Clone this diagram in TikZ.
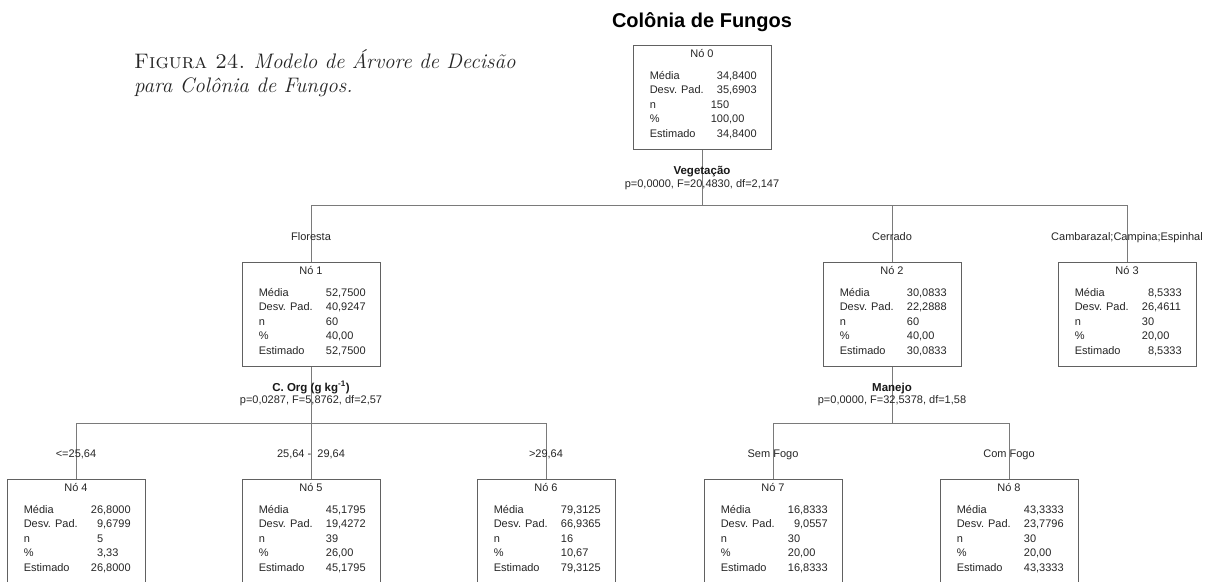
\documentclass[tikz,border=0pt]{standalone}
\usepackage{fontspec}
\setsansfont{Liberation Sans}
\usepackage{tikz}
\usetikzlibrary{calc}

% valores alinhados pela virgula
\newcommand{\dv}[2]{\makebox[18.4pt][r]{#1},#2}
\newcommand{\dn}[1]{\makebox[18.4pt][r]{#1}}

\tikzset{
	caixa/.style={draw=black!62, line width=0.9pt, minimum width=138pt, minimum height=104pt, inner sep=0pt},
	ramo/.style={draw=black!52, line width=0.9pt},
	txt/.style={font=\sffamily\fontsize{11}{13}\selectfont, inner sep=0pt, text=black!85},
	txtb/.style={font=\sffamily\bfseries\fontsize{11.5}{13}\selectfont, inner sep=0pt, text=black!90}
}

% nome, x, topo, numero, media, desvio, n, percentual
\newcommand{\arvno}[8]{%
	\node[caixa, anchor=north] (#1) at (#2,#3) {};
	\node[txt, anchor=base] (#1-t) at ($(#1.north)+(0,12)$) {Nó #4};
	\node[txt, anchor=base west] (#1-l1) at ($(#1.north west)+(17,34)$) {Média};
	\node[txt, anchor=base west] (#1-l2) at ($(#1.north west)+(17,48.5)$) {Desv. Pad.};
	\node[txt, anchor=base west] (#1-l3) at ($(#1.north west)+(17,63)$) {n};
	\node[txt, anchor=base west] (#1-l4) at ($(#1.north west)+(17,77.5)$) {\%};
	\node[txt, anchor=base west] (#1-l5) at ($(#1.north west)+(17,92)$) {Estimado};
	\node[txt, anchor=base west] (#1-v1) at ($(#1.north west)+(78,34)$) {#5};
	\node[txt, anchor=base west] (#1-v2) at ($(#1.north west)+(78,48.5)$) {#6};
	\node[txt, anchor=base west] (#1-v3) at ($(#1.north west)+(78,63)$) {#7};
	\node[txt, anchor=base west] (#1-v4) at ($(#1.north west)+(78,77.5)$) {#8};
	\node[txt, anchor=base west] (#1-v5) at ($(#1.north west)+(78,92)$) {#5};
}

\begin{document}
\begin{tikzpicture}[x=1pt, y=-1pt]
	\useasboundingbox (0,0) rectangle (1226,581);
	\clip (0,0) rectangle (1226,581);
	\fill[white] (0,0) rectangle (1226,581);

	% legenda e titulo
	\node[anchor=base west, inner sep=0pt, font=\fontsize{21}{24}\selectfont, text=black!85] (leg1) at (134,68) {\textsc{Figura 24.} \textit{Modelo de Árvore de Decisão}};
	\node[anchor=base west, inner sep=0pt, font=\fontsize{21}{24}\selectfont, text=black!85] (leg2) at (134,92) {\textit{para Colônia de Fungos.}};
	\node[anchor=base, inner sep=0pt, font=\sffamily\bfseries\fontsize{20}{24}\selectfont] (titulo) at (702,27) {Colônia de Fungos};

	% nos
	\arvno{n0}{702}{45}{0}{\dv{34}{8400}}{\dv{35}{6903}}{\dn{150}}{\dv{100}{00}}
	\arvno{n1}{311}{262}{1}{\dv{52}{7500}}{\dv{40}{9247}}{\dn{60}}{\dv{40}{00}}
	\arvno{n2}{892}{262}{2}{\dv{30}{0833}}{\dv{22}{2888}}{\dn{60}}{\dv{40}{00}}
	\arvno{n3}{1127}{262}{3}{\dv{8}{5333}}{\dv{26}{4611}}{\dn{30}}{\dv{20}{00}}
	\arvno{n4}{76}{479}{4}{\dv{26}{8000}}{\dv{9}{6799}}{\dn{5}}{\dv{3}{33}}
	\arvno{n5}{311}{479}{5}{\dv{45}{1795}}{\dv{19}{4272}}{\dn{39}}{\dv{26}{00}}
	\arvno{n6}{546}{479}{6}{\dv{79}{3125}}{\dv{66}{9365}}{\dn{16}}{\dv{10}{67}}
	\arvno{n7}{773}{479}{7}{\dv{16}{8333}}{\dv{9}{0557}}{\dn{30}}{\dv{20}{00}}
	\arvno{n8}{1009}{479}{8}{\dv{43}{3333}}{\dv{23}{7796}}{\dn{30}}{\dv{20}{00}}

	% ligacoes
	\coordinate (bar0) at (702,205);
	\coordinate (bar1) at (311,423);
	\coordinate (bar2) at (892,423);
	\draw[ramo] (n0.south) -- (bar0);
	\draw[ramo] (bar0) -| (n1.north);
	\draw[ramo] (bar0) -| (n2.north);
	\draw[ramo] (bar0) -| (n3.north);
	\draw[ramo] (n1.south) -- (bar1);
	\draw[ramo] (bar1) -| (n4.north);
	\draw[ramo] (bar1) -- (n5.north);
	\draw[ramo] (bar1) -| (n6.north);
	\draw[ramo] (n2.south) -- (bar2);
	\draw[ramo] (bar2) -| (n7.north);
	\draw[ramo] (bar2) -| (n8.north);

	% variaveis de divisao
	\node[txtb, anchor=base] (s0) at (702,174) {Vegetação};
	\node[txt, anchor=base] (s0p) at (702,187) {p=0,0000, F=20,4830, df=2,147};
	\node[txtb, anchor=base] (s1) at (311,391) {C. Org (g kg\textsuperscript{-1})};
	\node[txt, anchor=base] (s1p) at (311,403) {p=0,0287, F=5,8762, df=2,57};
	\node[txtb, anchor=base] (s2) at (892,391) {Manejo};
	\node[txt, anchor=base] (s2p) at (892,403) {p=0,0000, F=32,5378, df=1,58};

	% rotulos dos ramos
	\node[txt, anchor=base] (r1) at (311,240) {Floresta};
	\node[txt, anchor=base] (r2) at (892,240) {Cerrado};
	\node[txt, anchor=base] (r3) at (1127,240) {Cambarazal;Campina;Espinhal};
	\node[txt, anchor=base] (r4) at (76,457) {<=25,64};
	\node[txt, anchor=base] (r5) at (311,457) {25,64 -\ \ 29,64};
	\node[txt, anchor=base] (r6) at (546,457) {>29,64};
	\node[txt, anchor=base] (r7) at (773,457) {Sem Fogo};
	\node[txt, anchor=base] (r8) at (1009,457) {Com Fogo};
\end{tikzpicture}
\end{document}
